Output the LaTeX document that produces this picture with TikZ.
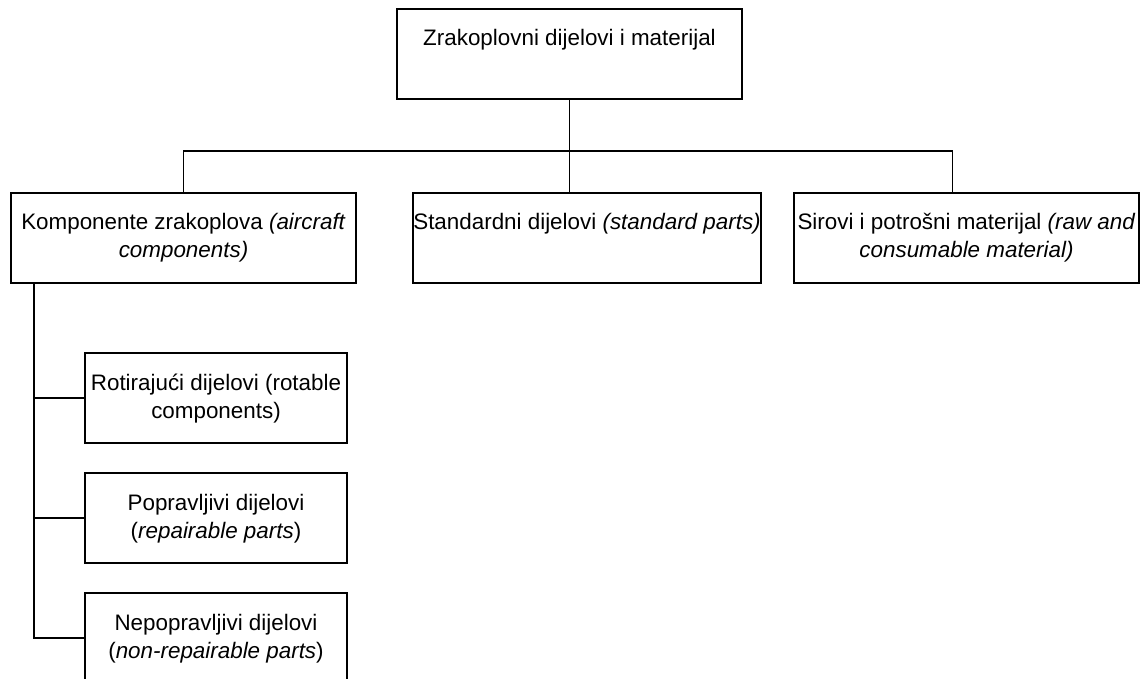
\documentclass[tikz,border=0pt]{standalone}
\usepackage{fontspec}
\setmainfont{Liberation Sans}
\tikzstyle{group} = [rectangle, draw=black, line width=0.9pt, minimum width=172.5pt, align=center, text height=8.5pt, text depth=16.5pt, inner ysep=10pt, inner xsep=0pt, font=\fontsize{11.2pt}{14pt}\selectfont]
\tikzstyle{kind} = [group, minimum width=131pt]
\tikzstyle{twolines} = [text height=22.5pt, text depth=2.5pt]
\tikzstyle{link} = [line width=0.9pt]

\begin{document}
\begin{tikzpicture}[node distance=60pt]
	\useasboundingbox (0,0) rectangle (573pt,-339.5pt);

	\node (material) [group] at (284.75pt,-27pt) {Zrakoplovni dijelovi i materijal};

	\node (components) [group, twolines, below of=material, yshift=-32pt, xshift=-193pt] {Komponente zrakoplova \textit{(aircraft}\\ \textit{components)}};
	\node (standard) [group, below of=material, yshift=-32pt, xshift=8.75pt] {Standardni dijelovi \textit{(standard parts)}};
	\node (raw) [group, twolines, below of=material, yshift=-32pt, xshift=198.5pt] {Sirovi i potrošni materijal \textit{(raw and}\\ \textit{consumable material)}};

	\coordinate (bar) at ([yshift=-25.5pt]material.south);
	\draw [link] (material) -- (bar);
	\draw [link] (bar) -| (components);
	\draw [link] (bar) -- (bar |- standard.north);
	\draw [link] (bar) -| ([xshift=-7pt]raw.north);

	\node (rotable) [kind, twolines, below of=components, yshift=-20pt, xshift=16.25pt] {Rotirajući dijelovi (rotable\\ components)};
	\node (repairable) [kind, twolines, below of=rotable] {Popravljivi dijelovi\\ (\textit{repairable parts})};
	\node (nonrepairable) [kind, twolines, below of=repairable] {Nepopravljivi dijelovi\\ (\textit{non-repairable parts})};

	\coordinate (spine) at ([xshift=12pt]components.south west);
	\draw [link] (spine) |- (rotable);
	\draw [link] (spine) |- (repairable);
	\draw [link] (spine) |- (nonrepairable);
\end{tikzpicture}
\end{document}
